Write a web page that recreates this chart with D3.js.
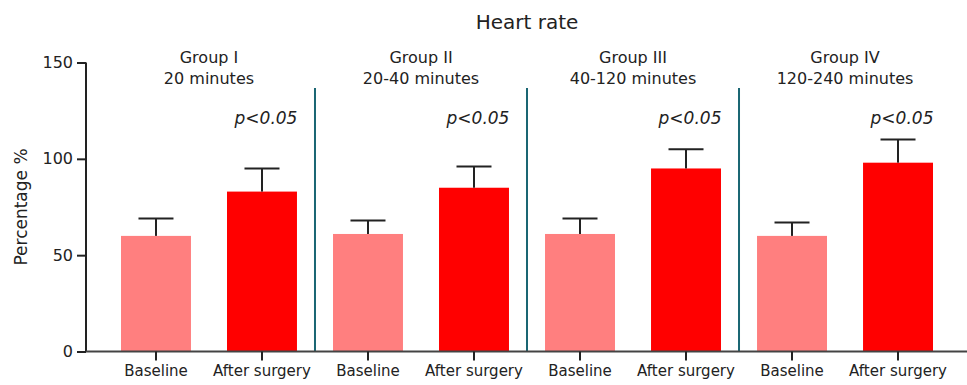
<!DOCTYPE html>
<html><head><meta charset="utf-8">
<script src="https://cdn.jsdelivr.net/npm/d3@7/dist/d3.min.js"></script>
<style>body{margin:0;background:#fff}svg{display:block}text{font-family:"DejaVu Sans",sans-serif;fill:#222}</style>
</head><body>
<script>
const categories = ["Baseline","After surgery","Baseline","After surgery","Baseline","After surgery","Baseline","After surgery"];
const means = [60, 83, 61, 85, 61, 95, 60, 98];
const errUpper = [69, 95, 68, 96, 69, 105, 67, 110];
const groupNames = ["Group I","Group II","Group III","Group IV"];
const groupTimes = ["20 minutes","20-40 minutes","40-120 minutes","120-240 minutes"];
const pLabels = ["p<0.05","p<0.05","p<0.05","p<0.05"];
const yTicks = [0, 50, 100, 150];
const colors = ["#FF7F7F","#FF0000"];

const W = 967, H = 385;
const svg = d3.select("body").append("svg").attr("width", W).attr("height", H);
const y = d3.scaleLinear().domain([0,150]).range([351.5, 62.5]);
const x = d3.scaleBand().domain(d3.range(categories.length)).range([121, 933]).paddingInner(0.34).paddingOuter(0);
const x0 = 86;

// bars
svg.selectAll("rect.bar").data(means).join("rect")
  .attr("x", (d,i)=>x(i)).attr("width", x.bandwidth())
  .attr("y", d=>y(d)).attr("height", d=>y(0)-y(d))
  .attr("fill", (d,i)=>colors[i%2]);

// error bars
const eg = svg.append("g").attr("stroke","#222").attr("stroke-width",2);
errUpper.forEach((e,i)=>{
  const cx = x(i)+x.bandwidth()/2;
  eg.append("line").attr("x1",cx).attr("x2",cx).attr("y1",y(means[i])).attr("y2",y(e));
  eg.append("line").attr("x1",cx-17.5).attr("x2",cx+17.5).attr("y1",y(e)).attr("y2",y(e));
});

// separators
for (let g=1; g<groupNames.length; g++){
  const sx = (x(2*g-1)+x.bandwidth() + x(2*g))/2;
  svg.append("line").attr("x1",sx).attr("x2",sx).attr("y1",88).attr("y2",y(0))
    .attr("stroke","#1a6673").attr("stroke-width",2);
}

// y axis
const ya = svg.append("g").attr("transform",`translate(${x0},0)`)
  .call(d3.axisLeft(y).tickValues(yTicks).tickSize(9).tickPadding(4));
ya.select(".domain").attr("stroke","#222").attr("stroke-width",2).attr("d",`M0,${y(150)}V${y(0)}`);
ya.selectAll(".tick line").attr("stroke","#222").attr("stroke-width",2);
ya.selectAll(".tick text").attr("font-size",16).style("font-family","DejaVu Sans").attr("fill","#222");

// x axis
const xa = svg.append("g").attr("transform",`translate(0,${y(0)})`)
  .call(d3.axisBottom(x).tickSize(9).tickPadding(5).tickFormat(i=>categories[i]));
xa.select(".domain").attr("stroke","#444").attr("stroke-width",2).attr("d",`M${x0},0H${W}`);
xa.selectAll(".tick line").attr("stroke","#222").attr("stroke-width",2);
xa.selectAll(".tick text").attr("font-size",15).style("font-family","DejaVu Sans").attr("fill","#222");

// title
svg.append("text").attr("x",527).attr("y",29).attr("text-anchor","middle").attr("font-size",20).text("Heart rate");

// y label
svg.append("text").attr("transform",`translate(27,${y(75)}) rotate(-90)`).attr("text-anchor","middle")
  .attr("font-size",17).text("Percentage %");

// group labels
groupNames.forEach((gname,g)=>{
  const cx = (x(2*g)+x(2*g+1)+x.bandwidth())/2;
  svg.append("text").attr("x",cx).attr("y",63).attr("text-anchor","middle").attr("font-size",16).text(gname);
  svg.append("text").attr("x",cx).attr("y",84).attr("text-anchor","middle").attr("font-size",16).text(groupTimes[g]);
  const px = x(2*g+1)+x.bandwidth()/2;
  svg.append("text").attr("x",px+4).attr("y",124).attr("text-anchor","middle").attr("font-size",17)
    .attr("font-style","italic").text(pLabels[g]);
});
</script>
</body></html>
